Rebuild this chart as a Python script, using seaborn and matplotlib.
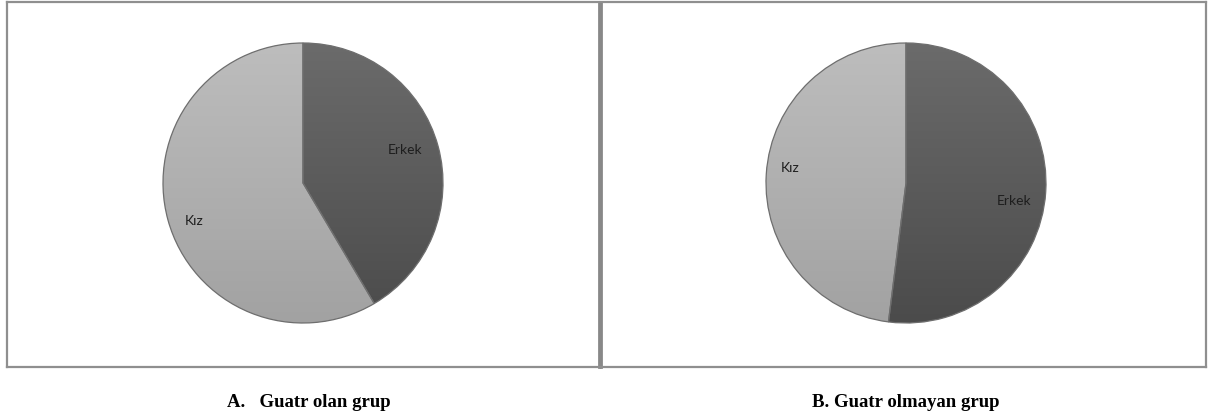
import numpy as np
import matplotlib
matplotlib.use("Agg")
import matplotlib.pyplot as plt
import seaborn as sns
from matplotlib.colors import LinearSegmentedColormap

# ---- data ----
categories = ["Erkek", "Kız"]
group_a = [41.5, 58.5]   # Guatr olan grup
group_b = [52.0, 48.0]   # Guatr olmayan grup
captions = ["A.   Guatr olan grup", "B. Guatr olmayan grup"]

sns.set_theme(style="white")
plt.rcParams["font.family"] = ["Lato", "DejaVu Sans"]

W, H = 1208, 419
fig = plt.figure(figsize=(W / 100, H / 100), dpi=100)
fig.patch.set_facecolor("white")

R_PX = 140.0
boxes = [
    dict(l=7, r=599, t=2, b=367, cx=303, cy=183, vals=group_a,
         cap=captions[0], capx=309, label_pos={"Erkek": (0.73, 0.236), "Kız": (-0.78, -0.27)}),
    dict(l=601, r=1206, t=2, b=367, cx=906, cy=183, vals=group_b,
         cap=captions[1], capx=906, label_pos={"Erkek": (0.77, -0.13), "Kız": (-0.83, 0.107)}),
]

dark_cmap = LinearSegmentedColormap.from_list("d", ["#6b6b6b", "#4b4b4b"])
light_cmap = LinearSegmentedColormap.from_list("l", ["#bdbdbd", "#a2a2a2"])
cmaps = {"Erkek": dark_cmap, "Kız": light_cmap}
flat = {"Erkek": "#5c5c5c", "Kız": "#b0b0b0"}

grad = np.linspace(0, 1, 256).reshape(-1, 1)

for i, bx in enumerate(boxes):
    ax = fig.add_axes([bx["l"] / W, 1 - bx["b"] / H, (bx["r"] - bx["l"]) / W, (bx["b"] - bx["t"]) / H])
    wedges, _ = ax.pie(bx["vals"], labels=None, startangle=90, counterclock=False,
                       colors=[flat[c] for c in categories],
                       wedgeprops=dict(edgecolor="#6e6e6e", linewidth=0.9))
    for w, cat in zip(wedges, categories):
        im = ax.imshow(grad, extent=(-1, 1, -1, 1), cmap=cmaps[cat], aspect="auto",
                       origin="upper", zorder=w.get_zorder() + 0.5, interpolation="bilinear")
        im.set_clip_path(w)
        w.set_facecolor("none")
        w.set_zorder(w.get_zorder() + 1)
        lx, ly = bx["label_pos"][cat]
        ax.text(lx, ly, cat, ha="center", va="center", fontsize=10, color="#1e1e1e", zorder=5)
    ax.set_aspect("auto")
    ax.set_xlim(-(bx["cx"] - bx["l"]) / R_PX, (bx["r"] - bx["cx"]) / R_PX)
    ax.set_ylim(-(bx["b"] - bx["cy"]) / R_PX, (bx["cy"] - bx["t"]) / R_PX)
    ax.set_frame_on(True)
    ax.set_xticks([])
    ax.set_yticks([])
    for side, sp in ax.spines.items():
        sp.set_visible(True)
        sp.set_color("#8f8f8f")
        sp.set_linewidth(1.6)
    if i == 0:
        ax.spines["right"].set_linewidth(2.0)
        ax.spines["right"].set_color("#888888")
    else:
        ax.spines["left"].set_linewidth(2.0)
        ax.spines["left"].set_color("#888888")

    fig.text(bx["capx"] / W, 1 - 402 / H, bx["cap"], ha="center", va="center",
             fontsize=13.5, fontweight="bold", family=["Liberation Serif", "DejaVu Serif"],
             color="black")

fig.savefig("out.png", dpi=100, facecolor="white")
